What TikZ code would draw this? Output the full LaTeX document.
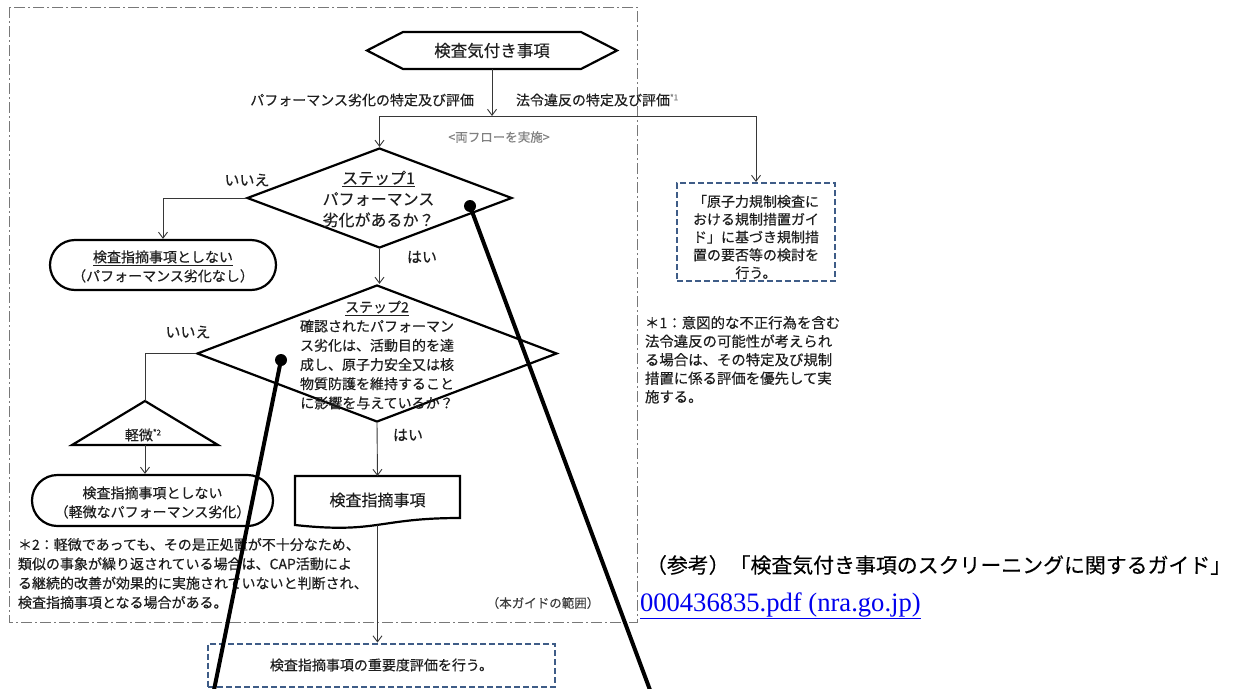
\documentclass[tikz,border=0pt]{standalone}
\usepackage{fontspec}
\newfontfamily\jp[FakeBold=0.3]{Noto Sans CJK JP}
\newfontfamily\lser{Liberation Serif}
\usetikzlibrary{shapes.geometric,shapes.misc,arrows.meta}
\definecolor{boxblue}{RGB}{62,92,135}
\definecolor{framegray}{RGB}{120,120,120}
\definecolor{linkblue}{RGB}{0,0,238}
\definecolor{txt}{RGB}{30,30,30}
\definecolor{conngray}{RGB}{55,55,55}
\newcommand{\setfs}[2]{\fontsize{#1pt}{#2pt}\selectfont}
\newcommand{\supmark}[1]{\raisebox{5pt}{\setfs{8}{8}#1}}
\tikzset{
  outl/.style={draw=black, line width=2.2pt},
  conn/.style={draw=conngray, line width=0.9pt, -{Straight Barb[length=6pt,width=9pt]}},
  cline/.style={draw=conngray, line width=0.9pt},
  lbl/.style={inner sep=0pt, outer sep=0pt, text=txt},
  dbox/.style={draw=boxblue, line width=2pt, dash pattern=on 6pt off 3pt},
  pointer/.style={line width=4pt, draw=black},
}
\begin{document}
\begin{tikzpicture}[x=1pt,y=-1pt]
\useasboundingbox (0,0) rectangle (1233,688);
\fill[white] (0,0) rectangle (1233,688);

% guide frame
\draw[framegray, line width=1pt, dash pattern=on 11pt off 3pt on 2pt off 3pt] (9,7) rectangle (637,622);

% start hexagon
\node[lbl, font=\jp\setfs{16.5}{20}, minimum width=250pt, minimum height=37pt] (hex) at (492,50.5) {検査気付き事項};
\draw[outl] (hex.west) -- ([xshift=36pt]hex.north west) -- ([xshift=-36pt]hex.north east) -- (hex.east) -- ([xshift=-36pt]hex.south east) -- ([xshift=36pt]hex.south west) -- cycle;

\node[lbl, font=\jp\setfs{14}{18}, anchor=east] (lblperf) at (474,100) {パフォーマンス劣化の特定及び評価};
\node[lbl, font=\jp\setfs{14}{18}, anchor=west] (lbllaw) at (516,100) {法令違反の特定及び評価\textcolor{gray}{\supmark{*1}}};
\node[lbl, font=\jp\setfs{12.5}{16}, text=gray] (both) at (499,137) {<両フローを実施>};

\coordinate (j1) at (492,116);

% step 1
\node[diamond, outl, minimum width=265pt, minimum height=100pt, inner sep=0pt] (s1) at (379.5,198) {};
\node[lbl, font=\jp\setfs{16}{21}, align=center] (s1t) at (378.5,199) {\underline{ステップ1}\\パフォーマンス\\劣化があるか？};
\node[lbl, font=\jp\setfs{15}{18}] (no1) at (247,180) {いいえ};
\node[lbl, font=\jp\setfs{15}{18}] (yes1) at (422,257) {はい};

% right box
\node[dbox, minimum width=158pt, minimum height=98pt] (rbox) at (756,232) {};
\node[lbl, font=\jp\setfs{14}{17.8}, align=center] (rboxt) at (756,237) {「原子力規制検査に\\おける規制措置ガイ\\ド」に基づき規制措\\置の要否等の検討を\\行う。};

% note 1
\node[lbl, font=\jp\setfs{14.4}{18.5}, align=left, anchor=north west] (note1) at (645,316) {＊1：意図的な不正行為を含む\\法令違反の可能性が考えられ\\る場合は、その特定及び規制\\措置に係る評価を優先して実\\施する。};

% oval 1
\node[rounded rectangle, outl, minimum width=226pt, minimum height=50pt, inner sep=0pt] (ov1) at (163,265) {};
\node[lbl, font=\jp\setfs{14}{19}, align=center] (ov1t) at (163,266.5) {\underline{検査指摘事項としない}\\（パフォーマンス劣化なし）};

% step 2
\node[diamond, outl, minimum width=360pt, minimum height=137pt, inner sep=0pt] (s2) at (377,353.5) {};
\node[lbl, font=\jp\setfs{14}{19.2}, align=center] (s2t) at (377,355) {\underline{ステップ2}\\確認されたパフォーマン\\ス劣化は、活動目的を達\\成し、原子力安全又は核\\物質防護を維持すること\\に影響を与えているか？};
\node[lbl, font=\jp\setfs{15}{18}] (no2) at (188,332) {いいえ};
\node[lbl, font=\jp\setfs{15}{18}] (yes2) at (408,435) {はい};

% triangle
\coordinate (tria) at (145,401);
\coordinate (tribl) at (72,445);
\coordinate (tribr) at (218,445);
\coordinate (trib) at (145,445);
\draw[outl, line join=miter] (tria) -- (tribr) -- (tribl) -- cycle;
\node[lbl, font=\jp\setfs{14}{18}] (tri) at (143,435) {軽微\supmark{*2}};

% oval 2
\node[rounded rectangle, outl, minimum width=241pt, minimum height=51pt, inner sep=0pt] (ov2) at (152.5,500.5) {};
\node[lbl, font=\jp\setfs{14}{19}, align=center] (ov2t) at (152.5,502.5) {検査指摘事項としない\\（軽微なパフォーマンス劣化）};

% note 2
\node[lbl, font=\jp\setfs{14}{19.3}, align=left, anchor=north west] (note2) at (18,538) {＊2：軽微であっても、その是正処置が不十分なため、\\類似の事象が繰り返されている場合は、CAP活動によ\\る継続的改善が効果的に実施されていないと判断され、\\検査指摘事項となる場合がある。};

% document shape
\coordinate (dtop) at (377.5,476);
\coordinate (dbot) at (377.5,525);
\draw[outl] (295,476) -- (460,476) -- (460,518) .. controls (377.5,518) and (377.5,534) .. (295,525) -- cycle;
\node[lbl, font=\jp\setfs{16}{20}] (doc) at (377.5,500) {検査指摘事項};

\node[lbl, font=\jp\setfs{12.5}{16}, text={rgb,255:red,60;green,60;blue,60}] (scope) at (543,603) {（本ガイドの範囲）};

% bottom box
\node[dbox, minimum width=347pt, minimum height=43pt, font=\jp\setfs{14}{18}, text=txt] (bbox) at (381.5,665) {検査指摘事項の重要度評価を行う。};

% connectors
\draw[conn] (hex.south) -- (j1);
\draw[conn] (j1) -| (s1.north);
\draw[conn] (j1) -| (rbox.north);
\draw[conn] (s1.west) -| (ov1.north);
\draw[conn] (s1.south) -- (s1.south |- s2.north);
\draw[cline] (s2.west) -| (tria);
\draw[conn] (trib) -- (trib |- ov2.north);
\draw[conn] (s2.south) -- (dtop);
\draw[conn] (dbot) -- (dbot |- bbox.north);

% reference text
\node[lbl, font=\jp\setfs{20.9}{24}, anchor=west, text=black] (ref) at (646,565) {（参考）「検査気付き事項のスクリーニングに関するガイド」};
\node[lbl, font=\lser\setfs{26.6}{30}, anchor=west, text=linkblue] (link) at (640,606) {\underline{000436835.pdf (nra.go.jp)}};

% pointer lines
\coordinate (pa) at (470,206);
\coordinate (pa2) at (650,690);
\coordinate (pb) at (281,360);
\coordinate (pb2) at (214,690);
\fill (pa) circle (6pt);
\fill (pb) circle (6pt);
\draw[pointer] (pa) -- (pa2);
\draw[pointer] (pb) -- (pb2);
\end{tikzpicture}
\end{document}
